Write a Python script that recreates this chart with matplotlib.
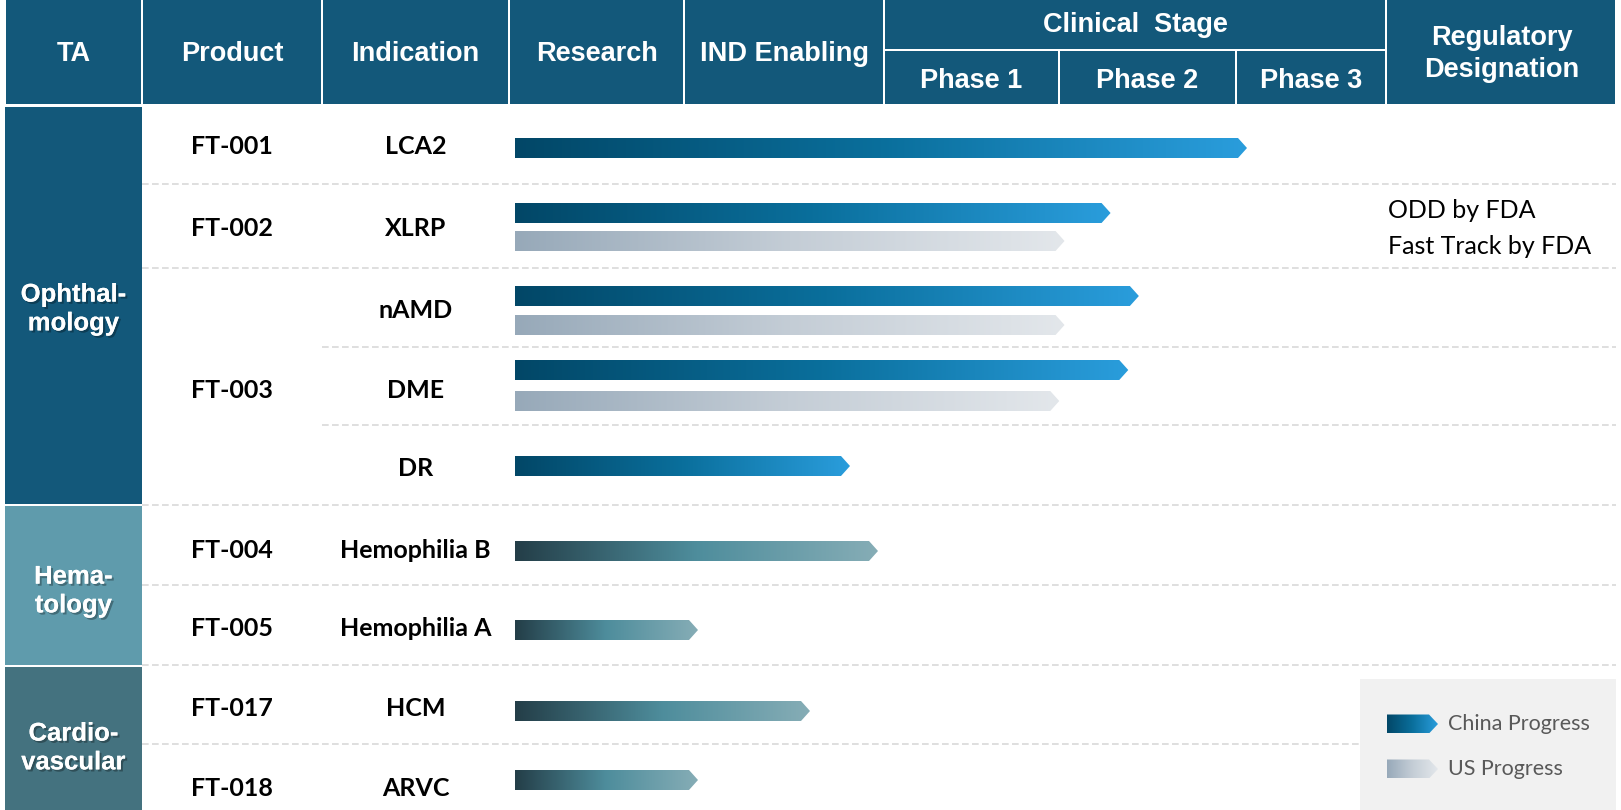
import numpy as np
import matplotlib
matplotlib.use("Agg")
import matplotlib.pyplot as plt
from matplotlib.colors import LinearSegmentedColormap
from matplotlib.patches import Polygon, Rectangle
import matplotlib.patheffects as pe

# ---- data -------------------------------------------------------------
ta_names = ["Ophthal-\nmology", "Hema-\ntology", "Cardio-\nvascular"]
products = ["FT-001", "FT-002", "FT-003", "FT-004", "FT-005", "FT-017", "FT-018"]
indications = ["LCA2", "XLRP", "nAMD", "DME", "DR",
               "Hemophilia B", "Hemophilia A", "HCM", "ARVC"]
# progress in stage units: 0 = Research, 1 = IND Enabling, 2 = Phase 1, 3 = Phase 2, 4 = Phase 3
china_progress = [4.06, 3.28, 3.44, 3.38, 1.82, 1.96, 1.06, 1.62, 1.06]
us_progress = [None, 3.02, 3.02, 2.99, None, None, None, None, None]
ta_of_indication = [0, 0, 0, 0, 0, 1, 1, 2, 2]
designations = {"XLRP": ["ODD by FDA", "Fast Track by FDA"]}
stage_labels = ["Research", "IND Enabling", "Phase 1", "Phase 2", "Phase 3"]
legend_labels = ["China Progress", "US Progress"]

# ---- layout (pixels of the 1621x810 canvas) ---------------------------
W, H = 1621, 810
stage_edges = [511, 686, 886, 1061, 1238, 1388]
col_edges = [5, 142, 322, 509, 684, 884, 1386, 1616]
header_bottom = 104
ta_spans = [(107, 504), (506, 665), (667, 810)]
ta_text_y = [309, 591, 748]
product_y = [147, 229, 390, 550, 629, 709, 789]
ind_y = [147, 229, 310, 390, 468, 550, 629, 709, 789]
china_y = [148, 213, 296, 370, 466, 551, 630, 711, 780]
us_y = [None, 241, 325, 401, None, None, None, None, None]
separators = [(142, 184), (142, 268), (322, 347), (322, 425), (142, 505),
              (142, 585), (142, 665), (142, 744)]
designation_y = [211, 246]
bar_x0 = 515
bar_h = 20
tip = 9

header_color = "#13587A"
ta_colors = ["#13587A", "#5F9BAC", "#44727F"]
china_cmap = LinearSegmentedColormap.from_list("china", ["#024767", "#0A6F9C", "#2A9DDC"])
us_cmap = LinearSegmentedColormap.from_list("us", ["#97A9B9", "#C4CDD6", "#E3E7EB"])
teal_cmap = LinearSegmentedColormap.from_list("teal", ["#243E48", "#4E8D9C", "#86ADB6"])

head_font = dict(family=["Liberation Sans", "DejaVu Sans"], weight="bold", color="white", size=19.5)
body_font = dict(family=["Lato", "DejaVu Sans"], weight="bold", color="black", size=18)

fig = plt.figure(figsize=(W / 100, H / 100), dpi=100)
ax = fig.add_axes([0, 0, 1, 1])
ax.set_xlim(0, W)
ax.set_ylim(H, 0)
ax.axis("off")


def cell(x0, x1, y0, y1, color):
    ax.add_patch(Rectangle((x0 + 1, y0), x1 - x0 - 2, y1 - y0, fc=color, ec="none", zorder=2))


def grad_arrow(x0, x1, yc, cmap, h=bar_h, z=4):
    verts = [(x0, yc - h / 2), (x1 - tip, yc - h / 2), (x1, yc),
             (x1 - tip, yc + h / 2), (x0, yc + h / 2)]
    poly = Polygon(verts, closed=True, fc="none", ec="none")
    ax.add_patch(poly)
    grad = np.linspace(0, 1, 256).reshape(1, -1)
    im = ax.imshow(grad, cmap=cmap, extent=(x0, x1, yc + h / 2, yc - h / 2),
                   aspect="auto", zorder=z, interpolation="bilinear")
    im.set_clip_path(poly)


# ---- header -----------------------------------------------------------
for i, name in enumerate(["TA", "Product", "Indication"]):
    cell(col_edges[i], col_edges[i + 1], 0, header_bottom, header_color)
    ax.text((col_edges[i] + col_edges[i + 1]) / 2, 54, name, ha="center", va="center", **head_font)
for i, name in enumerate(stage_labels[:2]):
    x0, x1 = stage_edges[i] - 2, stage_edges[i + 1] - 2
    cell(x0, x1, 0, header_bottom, header_color)
    ax.text((x0 + x1) / 2, 54, name, ha="center", va="center", **head_font)
cell(stage_edges[2] - 2, stage_edges[5] - 2, 0, 49, header_color)
ax.text((stage_edges[2] + stage_edges[5]) / 2 - 2, 25, "Clinical  Stage", ha="center", va="center", **head_font)
for i, name in enumerate(stage_labels[2:], start=2):
    x0, x1 = stage_edges[i] - 2, stage_edges[i + 1] - 2
    cell(x0, x1, 51, header_bottom, header_color)
    ax.text((x0 + x1) / 2, 81, name, ha="center", va="center", **head_font)
cell(stage_edges[5] - 2, col_edges[-1], 0, header_bottom, header_color)
ax.text((stage_edges[5] + col_edges[-1]) / 2, 54, "Regulatory\nDesignation", ha="center", va="center",
        linespacing=1.33, **head_font)

# ---- therapeutic areas ------------------------------------------------
shadow = [pe.withSimplePatchShadow(offset=(1.5, -1.5), shadow_rgbFace="black", alpha=0.3), pe.Normal()]
for (y0, y1), name, color, ty in zip(ta_spans, ta_names, ta_colors, ta_text_y):
    ax.add_patch(Rectangle((col_edges[0], y0), col_edges[1] - col_edges[0], y1 - y0, fc=color, ec="none", zorder=2))
    ax.text((col_edges[0] + col_edges[1]) / 2, ty, name, ha="center", va="center", color="white",
            family=["Liberation Sans", "DejaVu Sans"], weight="bold", size=18.5,
            linespacing=1.25, path_effects=shadow, zorder=3)

# ---- separators -------------------------------------------------------
for x0, y in separators:
    ax.plot([x0, col_edges[-1]], [y, y], color="#D9D9D9", lw=1.2, ls=(0, (4, 2)), zorder=1)

# ---- rows -------------------------------------------------------------
prod_x = (col_edges[1] + col_edges[2]) / 2
ind_x = (col_edges[2] + col_edges[3]) / 2
for name, y in zip(products, product_y):
    ax.text(prod_x, y, name, ha="center", va="center", **body_font)

for i, name in enumerate(indications):
    ax.text(ind_x, ind_y[i], name, ha="center", va="center", **body_font)
    end = np.interp(china_progress[i], range(len(stage_edges)), stage_edges)
    cmap = china_cmap if ta_of_indication[i] == 0 else teal_cmap
    grad_arrow(bar_x0, end, china_y[i], cmap)
    if us_progress[i] is not None:
        end = np.interp(us_progress[i], range(len(stage_edges)), stage_edges)
        grad_arrow(bar_x0, end, us_y[i], us_cmap)
    for line, ly in zip(designations.get(name, []), designation_y):
        ax.text(1388, ly, line, ha="left", va="center", color="black",
                family=["Lato", "DejaVu Sans"], size=18)

# ---- legend -----------------------------------------------------------
ax.add_patch(Rectangle((1360, 679), 1616 - 1360, H - 679, fc="#F1F1F1", ec="none", zorder=5))
for label, cmap, y in zip(legend_labels, [china_cmap, us_cmap], [724, 769]):
    grad_arrow(1387, 1438, y, cmap, h=19, z=6)
    ax.text(1448, y, label, ha="left", va="center", color="#595959",
            family=["Lato", "DejaVu Sans"], size=15.5, zorder=6)

ax.set_xlim(0, W)
ax.set_ylim(H, 0)
fig.savefig("out.png", dpi=100)
